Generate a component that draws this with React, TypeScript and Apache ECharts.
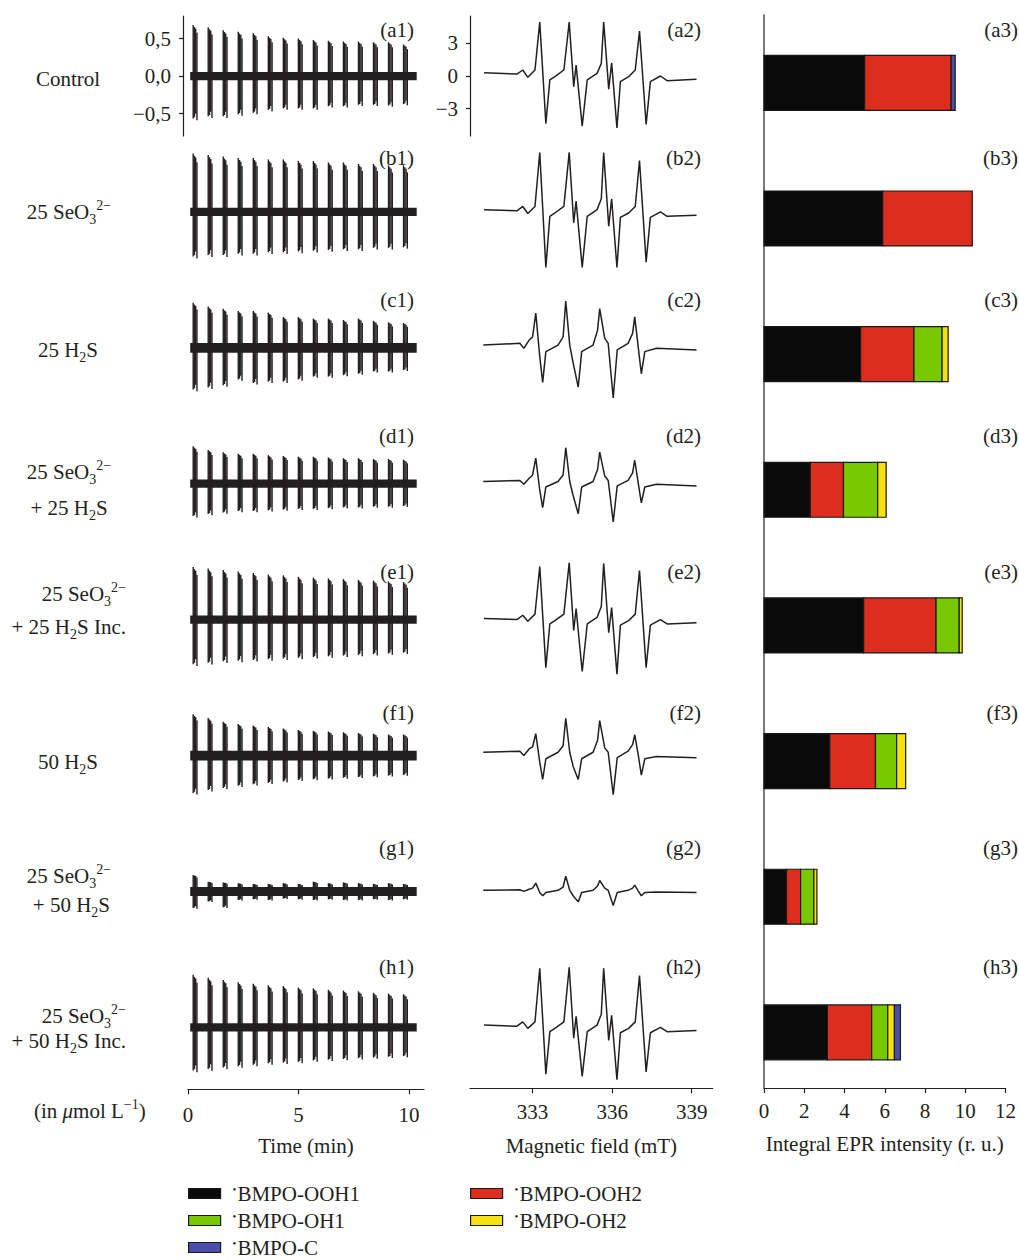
import React, { useEffect, useRef } from 'react';
import * as echarts from 'echarts';

const FONT = '"Liberation Serif", "DejaVu Serif", serif';
const INK = '#231f20';
const FS = 21;

// ---------- column 1: time traces ----------
const scanTimes = [0.32, 1.0, 1.68, 2.36, 3.04, 3.72, 4.4, 5.08, 5.76, 6.44, 7.12, 7.8, 8.48, 9.16, 9.84];
const traceSpan = [0.1, 10.35];
const scanTopA = [0.68, 0.65, 0.61, 0.59, 0.57, 0.53, 0.51, 0.5, 0.48, 0.47, 0.46, 0.46, 0.45, 0.45, 0.42];
const scanBotA = [-0.59, -0.56, -0.56, -0.53, -0.51, -0.47, -0.45, -0.45, -0.45, -0.42, -0.42, -0.4, -0.4, -0.41, -0.39];
const scanTopB = [0.78, 0.76, 0.74, 0.72, 0.72, 0.7, 0.7, 0.68, 0.68, 0.66, 0.66, 0.64, 0.64, 0.62, 0.62];
const scanBotB = [-0.62, -0.6, -0.6, -0.58, -0.58, -0.56, -0.56, -0.55, -0.54, -0.53, -0.52, -0.52, -0.5, -0.5, -0.49];
const scanTopC = [0.6, 0.55, 0.52, 0.49, 0.49, 0.47, 0.41, 0.41, 0.39, 0.39, 0.37, 0.39, 0.36, 0.34, 0.33];
const scanBotC = [-0.58, -0.55, -0.52, -0.44, -0.49, -0.47, -0.47, -0.44, -0.4, -0.4, -0.38, -0.36, -0.33, -0.33, -0.31];
const scanTopD = [0.5, 0.45, 0.42, 0.4, 0.4, 0.38, 0.37, 0.36, 0.36, 0.35, 0.34, 0.34, 0.33, 0.33, 0.32];
const scanBotD = [-0.45, -0.42, -0.4, -0.38, -0.38, -0.37, -0.36, -0.35, -0.35, -0.34, -0.33, -0.33, -0.32, -0.32, -0.31];
const scanTopE = [0.7, 0.68, 0.66, 0.64, 0.62, 0.6, 0.59, 0.57, 0.56, 0.55, 0.54, 0.53, 0.52, 0.51, 0.5];
const scanBotE = [-0.62, -0.6, -0.58, -0.57, -0.56, -0.55, -0.54, -0.53, -0.52, -0.51, -0.5, -0.49, -0.48, -0.47, -0.46];
const scanTopF = [0.55, 0.5, 0.45, 0.42, 0.4, 0.38, 0.36, 0.34, 0.33, 0.32, 0.31, 0.3, 0.29, 0.28, 0.28];
const scanBotF = [-0.52, -0.48, -0.45, -0.42, -0.4, -0.38, -0.36, -0.34, -0.33, -0.32, -0.31, -0.3, -0.29, -0.28, -0.27];
const scanTopG = [0.22, 0.13, 0.12, 0.11, 0.1, 0.1, 0.11, 0.1, 0.13, 0.11, 0.12, 0.11, 0.1, 0.11, 0.1];
const scanBotG = [-0.23, -0.14, -0.22, -0.12, -0.11, -0.12, -0.1, -0.11, -0.12, -0.11, -0.12, -0.12, -0.11, -0.12, -0.11];
const scanTopH = [0.7, 0.66, 0.63, 0.6, 0.58, 0.56, 0.55, 0.53, 0.52, 0.5, 0.49, 0.48, 0.46, 0.45, 0.44];
const scanBotH = [-0.6, -0.58, -0.56, -0.54, -0.52, -0.5, -0.49, -0.48, -0.46, -0.45, -0.44, -0.43, -0.42, -0.41, -0.4];
const bandHalf = [0.055, 0.055, 0.065, 0.055, 0.055, 0.065, 0.06, 0.055];
const scanTops = [scanTopA, scanTopB, scanTopC, scanTopD, scanTopE, scanTopF, scanTopG, scanTopH];
const scanBots = [scanBotA, scanBotB, scanBotC, scanBotD, scanBotE, scanBotF, scanBotG, scanBotH];
// positions (min) of the four EPR lines inside one field sweep, and their relative heights
const lineOffsets = [-0.085, -0.028, 0.028, 0.085];
const lineRel = [1, 0.96, 0.93, 0.85];

// ---------- column 2: EPR spectra ----------
const fieldInc = [331.17, 332.41, 332.63, 332.82, 333.09, 333.27, 333.5, 333.65, 333.84, 334.18, 334.38, 334.55, 334.64, 334.87, 335.06, 335.43, 335.59, 335.68, 335.87, 335.98, 336.18, 336.31, 336.62, 336.87, 337.03, 337.28, 337.44, 337.82, 338.07, 339.18];
const fieldH2S = [331.14, 332.52, 332.67, 332.87, 333.0, 333.12, 333.27, 333.38, 333.5, 333.96, 334.15, 334.25, 334.4, 334.53, 334.72, 334.85, 335.28, 335.45, 335.53, 335.72, 335.85, 336.04, 336.19, 336.6, 336.77, 336.85, 336.98, 337.1, 337.23, 337.67, 339.18];
const specA = [0.3, 0.18, 0.55, -0.12, 0.55, 4.94, -4.36, -0.36, -0.06, 0.55, 4.94, -0.97, 1.0, -4.6, -0.36, 0.24, 1.15, 4.94, -1.2, 1.2, -4.76, -0.52, -0.06, 0.55, 4.12, -4.45, -0.52, 0, -0.43, -0.3];
const specB = [0.2, 0.1, 0.5, -0.15, 0.5, 5.45, -5.1, -0.4, -0.1, 0.5, 5.45, -1.0, 1.0, -5.1, -0.4, 0.2, 1.2, 5.45, -1.3, 1.2, -5.1, -0.5, -0.1, 0.5, 4.7, -4.6, -0.5, 0, -0.4, -0.3];
const specC = [0.25, 0.41, -0.05, 0.71, 1.0, 3.19, -0.81, -3.17, -0.35, 0.25, 1.0, 4.28, 0.25, -1.41, -3.6, -0.35, 0.25, 1.62, 3.59, 0.86, 0.41, -4.6, -0.2, 0.41, 1.32, 2.83, 0.1, -2.38, -0.35, -0.05, -0.2];
const specD = [0.2, 0.3, -0.05, 0.5, 0.8, 2.34, -0.6, -2.2, -0.3, 0.2, 0.8, 3.3, 0.2, -1.1, -2.75, -0.3, 0.2, 1.3, 2.9, 0.7, 0.3, -3.5, -0.2, 0.3, 1.0, 2.15, 0.1, -1.75, -0.3, -0.05, -0.2];
const specE = [0.1, 0.0, 0.4, -0.15, 0.5, 4.87, -4.4, -0.4, -0.1, 0.5, 5.2, -1.0, 1.0, -4.76, -0.4, 0.2, 1.2, 5.15, -1.2, 1.1, -5.0, -0.5, -0.1, 0.5, 4.5, -4.4, -0.5, 0, -0.4, -0.3];
const specF = [0.3, 0.4, 0.0, 0.6, 0.8, 2.0, -0.6, -2.2, -0.3, 0.3, 0.9, 3.4, 0.3, -1.0, -2.2, -0.3, 0.3, 1.4, 3.2, 0.7, 0.3, -3.6, -0.2, 0.4, 1.0, 1.9, 0.1, -1.8, -0.3, -0.1, -0.2];
const specG = [0.1, 0.15, 0.0, 0.2, 0.3, 0.76, -0.1, -0.4, -0.1, 0.1, 0.4, 1.4, 0.1, -0.4, -0.96, -0.1, 0.1, 0.5, 1.0, 0.3, 0.1, -1.3, -0.1, 0.1, 0.3, 0.58, 0.05, -0.4, -0.1, -0.05, -0.1];
const specH = [0.2, 0.1, 0.5, -0.1, 0.5, 5.4, -4.3, -0.4, -0.1, 0.5, 5.5, -1.0, 1.0, -4.5, -0.4, 0.2, 1.2, 5.4, -1.2, 1.1, -4.8, -0.5, -0.1, 0.5, 4.75, -4.1, -0.5, 0, -0.4, -0.3];
const spectraFields = [fieldInc, fieldInc, fieldH2S, fieldH2S, fieldInc, fieldH2S, fieldH2S, fieldInc];
const spectraValues = [specA, specB, specC, specD, specE, specF, specG, specH];

// ---------- column 3: integral intensities ----------
const components = ['BMPO-OOH1', 'BMPO-OOH2', 'BMPO-OH1', 'BMPO-OH2', 'BMPO-C'];
const compColors = ['#0a0a0a', '#dc2d1e', '#78c800', '#f5e10f', '#4a4ea6'];
const ooh1 = [5.0, 5.9, 4.8, 2.3, 4.95, 3.27, 1.12, 3.15];
const ooh2 = [4.3, 4.45, 2.65, 1.65, 3.6, 2.27, 0.7, 2.2];
const oh1 = [0, 0, 1.4, 1.7, 1.15, 1.05, 0.66, 0.8];
const oh2 = [0, 0, 0.3, 0.42, 0.15, 0.45, 0.15, 0.33];
const bmpoC = [0.2, 0, 0, 0, 0, 0, 0, 0.3];
const compValues = [ooh1, ooh2, oh1, oh2, bmpoC];

const rowKeys = ['a', 'b', 'c', 'd', 'e', 'f', 'g', 'h'];
const panelY = [30, 158, 300, 436, 572, 713, 848, 967];

const ROW0 = 16;
const STEP = 135.9;

function App() {
  const ref = useRef<HTMLDivElement>(null);
  useEffect(() => {
    if (!ref.current) return;
    const chart = echarts.init(ref.current, undefined, { renderer: 'svg' });

    const grid: any[] = [];
    const xAxis: any[] = [];
    const yAxis: any[] = [];
    const series: any[] = [];
    const axisLineStyle = { color: INK, width: 1.2 };
    const labelStyle = { fontFamily: FONT, fontSize: FS, color: INK };
    const nameStyle = { fontFamily: FONT, fontSize: FS, color: INK };

    // column 1
    for (let i = 0; i < 8; i++) {
      grid.push({ left: 188, top: ROW0 + i * STEP, width: 236, height: 120 });
      xAxis.push({
        gridIndex: i, type: 'value', min: 0, max: 10.68, show: i === 7, offset: 2,
        axisLine: { onZero: false, lineStyle: axisLineStyle },
        axisTick: { customValues: [0, 5, 10], length: 5, lineStyle: axisLineStyle },
        axisLabel: { customValues: [0, 5, 10], margin: 15, ...labelStyle },
        splitLine: { show: false },
        name: 'Time (min)', nameLocation: 'middle', nameGap: 46, nameTextStyle: nameStyle,
      });
      yAxis.push({
        gridIndex: i, type: 'value', min: -0.8, max: 0.8, show: i === 0, offset: 5,
        axisLine: { show: true, onZero: false, lineStyle: axisLineStyle },
        axisTick: { show: true, customValues: [-0.5, 0, 0.5], length: 4, lineStyle: axisLineStyle },
        axisLabel: {
          customValues: [-0.5, 0, 0.5], margin: 12, ...labelStyle,
          formatter: (v: number) => (v < 0 ? '\u2212' : '') + Math.abs(v).toFixed(1).replace('.', ','),
        },
        splitLine: { show: false },
      });
      const tops = scanTops[i];
      const bots = scanBots[i];
      series.push({
        type: 'custom', xAxisIndex: i, yAxisIndex: i, silent: true,
        data: [[traceSpan[0], traceSpan[1], bandHalf[i]]],
        renderItem: (params: any, api: any) => {
          const p0 = api.coord([api.value(0), api.value(2)]);
          const p1 = api.coord([api.value(1), -api.value(2)]);
          return { type: 'rect', shape: { x: p0[0], y: p0[1], width: p1[0] - p0[0], height: p1[1] - p0[1] }, style: { fill: INK } };
        },
      });
      series.push({
        type: 'custom', xAxisIndex: i, yAxisIndex: i, silent: true,
        encode: { x: 0, y: [1, 2] },
        data: scanTimes.map((t, j) => [t, tops[j], bots[j]]),
        renderItem: (params: any, api: any) => {
          const t = api.value(0), top = api.value(1), bot = api.value(2);
          const children = lineOffsets.map((dt, k) => {
            const a = api.coord([t + dt, top * lineRel[k]]);
            const b = api.coord([t + dt, bot * lineRel[(k + 1) % 4]]);
            return { type: 'line', shape: { x1: a[0], y1: a[1], x2: b[0], y2: b[1] }, style: { stroke: INK, lineWidth: 1.4 } };
          });
          return { type: 'group', children };
        },
      });
    }
    // column 2
    for (let i = 0; i < 8; i++) {
      const gi = 8 + i;
      grid.push({ left: 470, top: ROW0 + i * STEP, width: 242.7, height: 120 });
      xAxis.push({
        gridIndex: gi, type: 'value', min: 330.64, max: 339.79, show: i === 7, offset: 1,
        axisLine: { onZero: false, lineStyle: axisLineStyle },
        axisTick: { customValues: [333, 336, 339], length: 5, lineStyle: axisLineStyle },
        axisLabel: { customValues: [333, 336, 339], margin: 13, ...labelStyle },
        splitLine: { show: false },
        name: 'Magnetic field (mT)', nameLocation: 'middle', nameGap: 47, nameTextStyle: nameStyle,
      });
      yAxis.push({
        gridIndex: gi, type: 'value', min: -5.5, max: 5.5, show: i === 0,
        axisLine: { show: true, onZero: false, lineStyle: axisLineStyle },
        axisTick: { show: true, customValues: [-3, 0, 3], length: 4, lineStyle: axisLineStyle },
        axisLabel: {
          customValues: [-3, 0, 3], margin: 12, ...labelStyle,
          formatter: (v: number) => (v < 0 ? '\u2212' : '') + Math.abs(v),
        },
        splitLine: { show: false },
      });
      const fld = spectraFields[i];
      const val = spectraValues[i];
      series.push({
        type: 'line', xAxisIndex: gi, yAxisIndex: gi, silent: true, symbol: 'none', clip: false,
        data: fld.map((f, j) => [f, val[j]]),
        lineStyle: { color: INK, width: 1.5 },
      });
    }
    // column 3
    grid.push({ left: 764, top: 15, width: 242.5, height: 1073 });
    xAxis.push({
      gridIndex: 16, type: 'value', min: 0, max: 12, interval: 2,
      axisLine: { onZero: false, lineStyle: axisLineStyle },
      axisTick: { length: 5, lineStyle: axisLineStyle },
      axisLabel: { margin: 12, ...labelStyle },
      splitLine: { show: false },
      name: 'Integral EPR intensity (r. u.)', nameLocation: 'middle', nameGap: 45, nameTextStyle: nameStyle,
    });
    yAxis.push({
      gridIndex: 16, type: 'value', min: -0.5, max: 7.41, inverse: true,
      axisLine: { show: true, onZero: false, lineStyle: { color: '#5a5a5a', width: 1.6 } },
      axisTick: { show: false }, axisLabel: { show: false }, splitLine: { show: false },
    });
    components.forEach((name, k) => {
      const data: number[][] = [];
      for (let r = 0; r < 8; r++) {
        let start = 0;
        for (let q = 0; q < k; q++) start += compValues[q][r];
        const v = compValues[k][r];
        if (v > 0) data.push([start, start + v, r]);
      }
      series.push({
        type: 'custom', name, xAxisIndex: 16, yAxisIndex: 16, silent: true,
        itemStyle: { color: compColors[k] },
        encode: { x: [0, 1], y: 2 },
        data,
        renderItem: (params: any, api: any) => {
          const p0 = api.coord([api.value(0), api.value(2)]);
          const p1 = api.coord([api.value(1), api.value(2)]);
          const h = Math.abs(api.size([0, 0.405])[1]);
          return {
            type: 'rect',
            shape: { x: p0[0], y: p0[1] - h / 2, width: p1[0] - p0[0], height: h },
            style: { fill: compColors[k], stroke: '#1a1a1a', lineWidth: 1.2 },
          };
        },
      });
    });

    const rich = {
      n: { fontSize: FS, fontFamily: FONT, lineHeight: 28, fill: INK },
      it: { fontSize: FS, fontFamily: FONT, lineHeight: 28, fill: INK, fontStyle: 'italic' },
      sub: { fontSize: 14, fontFamily: FONT, lineHeight: 14, verticalAlign: 'bottom', fill: INK },
      sup: { fontSize: 14, fontFamily: FONT, lineHeight: 14, verticalAlign: 'top', fill: INK },
    };
    const seo3 = '{n|25 SeO}{sub|3}{sup|2\u2212}';
    const txt = (text: string, x: number, y: number, align = 'center') => ({
      type: 'text', x, y, silent: true,
      style: { text, rich, align, verticalAlign: 'middle', font: `${FS}px ${FONT}`, fill: INK },
    });
    const graphic: any[] = [
      txt('{n|Control}', 68, 79),
      txt(seo3, 69, 212),
      txt('{n|25 H}{sub|2}{n|S}', 68, 350),
      txt(seo3, 69, 472),
      txt('{n|+ 25 H}{sub|2}{n|S}', 69, 508),
      txt(seo3, 126, 594, 'right'),
      txt('{n|+ 25 H}{sub|2}{n|S Inc.}', 126, 627, 'right'),
      txt('{n|50 H}{sub|2}{n|S}', 68, 762),
      txt(seo3, 69, 876),
      txt('{n|+ 50 H}{sub|2}{n|S}', 110, 905, 'right'),
      txt(seo3, 126, 1016, 'right'),
      txt('{n|+ 50 H}{sub|2}{n|S Inc.}', 126, 1041, 'right'),
      txt('{n|(in }{it|\u03bc}{n|mol L}{sup|\u22121}{n|)}', 34, 1111, 'left'),
    ];
    rowKeys.forEach((k, i) => {
      graphic.push(txt(`{n|(${k}1)}`, 414, panelY[i], 'right'));
      graphic.push(txt(`{n|(${k}2)}`, 701, panelY[i], 'right'));
      graphic.push(txt(`{n|(${k}3)}`, 1018, panelY[i], 'right'));
    });

    const legendCommon = {
      orient: 'vertical', icon: 'rect', itemWidth: 32, itemHeight: 10, itemGap: 6, padding: 0,
      height: 90,
      itemStyle: { borderColor: '#1a1a1a', borderWidth: 1.2 },
      formatter: (name: string) => `{d|\u2022}{t|${name}}`,
      textStyle: {
        color: INK,
        rich: {
          d: { fontSize: 11, fontFamily: FONT, color: INK, verticalAlign: 'top', lineHeight: 11, padding: [0, 1, 0, 7] },
          t: { fontSize: FS, fontFamily: FONT, color: INK, lineHeight: 20 },
        },
      },
      selectedMode: false,
    };

    chart.setOption({
      animation: false,
      backgroundColor: '#ffffff',
      grid, xAxis, yAxis, series, graphic,
      legend: [
        { ...legendCommon, left: 188, top: 1183, data: ['BMPO-OOH1', 'BMPO-OH1', 'BMPO-C'] },
        { ...legendCommon, left: 470, top: 1183, data: ['BMPO-OOH2', 'BMPO-OH2'] },
      ],
    });
    return () => chart.dispose();
  }, []);
  return <div ref={ref} style={{ position: 'absolute', left: 0, top: 0, width: 1019, height: 1260 }} />;
}

export default App;
